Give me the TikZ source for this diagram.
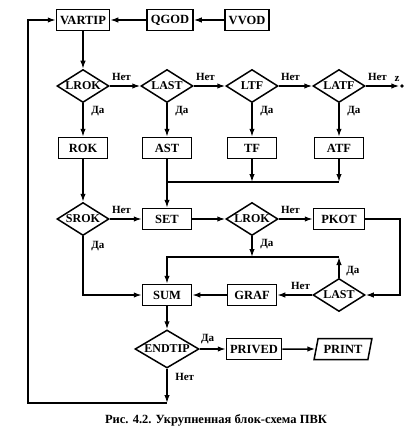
\documentclass[tikz,border=0pt]{standalone}
\usepackage{fontspec}
\setmainfont{Liberation Serif}
\usetikzlibrary{shapes.geometric,arrows.meta}
\begin{document}
\begin{tikzpicture}[x=1pt,y=-1pt,line width=1.5pt,
  >={Latex[length=8pt,width=5.5pt]},
  box/.style={draw,rectangle,minimum width=49pt,minimum height=21pt,inner sep=1pt,
    font=\bfseries\fontsize{12.5}{13}\selectfont},
  test/.style={draw,diamond,aspect=2,minimum width=52pt,minimum height=33pt,inner sep=0pt,
    font=\bfseries\fontsize{12}{13}\selectfont},
  io/.style={draw,trapezium,trapezium left angle=72,trapezium right angle=108,
    trapezium stretches=true,minimum width=58pt,minimum height=21pt,inner sep=1pt,
    font=\bfseries\fontsize{12.5}{13}\selectfont},
  lbl/.style={inner sep=0.5pt,font=\bfseries\fontsize{11}{12}\selectfont}]
  \useasboundingbox (0,0) rectangle (411,431);
  \node[box,minimum width=53pt] (vartip) at (83,20) {VARTIP};
  \node[box,minimum width=46pt] (qgod) at (170,20) {QGOD};
  \node[box,minimum width=44pt] (vvod) at (247,20) {VVOD};
  \node[test] (lrok) at (83,86) {LROK};
  \node[test] (last) at (167,86) {LAST};
  \node[test] (ltf) at (252,86) {LTF};
  \node[test] (latf) at (339,86) {LATF};
  \node[circle,fill,inner sep=1.4pt] (zend) at (402,86) {};
  \node[lbl] (zlbl) at (397,79) {z};
  \node[box] (rok) at (83,148) {ROK};
  \node[box] (ast) at (167,148) {AST};
  \node[box] (tf) at (252,148) {TF};
  \node[box] (atf) at (339,148) {ATF};
  \node[test] (srok) at (83,219) {SROK};
  \node[box] (set) at (167,219) {SET};
  \node[test] (lrok2) at (252,219) {LROK};
  \node[box,minimum width=51pt] (pkot) at (339,219) {PKOT};
  \node[box] (sum) at (167,295) {SUM};
  \node[box] (graf) at (252,295) {GRAF};
  \node[test] (last2) at (339,295) {LAST};
  \node[test,minimum width=64pt,minimum height=38pt] (endtip) at (167,349) {ENDTIP};
  \node[box,minimum width=55pt] (prived) at (254,349) {PRIVED};
  \node[io] (print) at (343,349) {PRINT};
  \node[font=\bfseries\fontsize{12.5}{14}\selectfont] (cap) at (216,420)
    {Рис. 4.2. Укрупненная блок-схема ПВК};
  \coordinate (j1) at (0,182);
  \coordinate (j2) at (0,257);
  \coordinate (pr) at (400,219);
  \coordinate (c1) at (167,403);
  \coordinate (lp) at (28,403);
  \draw[->] (vvod) -- (qgod);
  \draw[->] (qgod) -- (vartip);
  \draw[->] (vartip) -- (lrok);
  \draw[->] (lrok) -- (last);
  \draw[->] (last) -- (ltf);
  \draw[->] (ltf) -- (latf);
  \draw[->] (latf) -- (zend);
  \draw[->] (lrok) -- (rok);
  \draw[->] (last) -- (ast);
  \draw[->] (ltf) -- (tf);
  \draw[->] (latf) -- (atf);
  \draw[->] (rok) -- (srok);
  \draw[->] (ast) -- (set);
  \draw[->] (tf) -- (tf |- j1);
  \draw[->] (atf) -- (atf |- j1);
  \draw (ast |- j1) -- (atf |- j1);
  \draw[->] (srok) -- (set);
  \draw[->] (srok) |- (sum);
  \draw[->] (set) -- (lrok2);
  \draw[->] (lrok2) -- (pkot);
  \draw[->] (lrok2) -- (lrok2 |- j2);
  \draw[->] (last2 |- j2) -- (sum |- j2) -- (sum);
  \draw[->] (last2) -- (last2 |- j2);
  \draw[->] (pkot) -- (pr) |- (last2);
  \draw[->] (last2) -- (graf);
  \draw[->] (graf) -- (sum);
  \draw[->] (sum) -- (endtip);
  \draw[->] (endtip) -- (prived);
  \draw[->] (prived) -- (print);
  \draw[->] (endtip) -- (c1);
  \draw[->] (c1) -- (lp) |- (vartip);
  \node[lbl,anchor=south west] (n1) at ([xshift=1pt,yshift=4pt]lrok.east) {Нет};
  \node[lbl,anchor=south west] (n2) at ([xshift=1pt,yshift=4pt]last.east) {Нет};
  \node[lbl,anchor=south west] (n3) at ([xshift=1pt,yshift=4pt]ltf.east) {Нет};
  \node[lbl,anchor=south west] (n4) at ([xshift=1pt,yshift=4pt]latf.east) {Нет};
  \node[lbl,anchor=north west] (d1) at ([xshift=7pt,yshift=-2pt]lrok.south) {Да};
  \node[lbl,anchor=north west] (d2) at ([xshift=7pt,yshift=-2pt]last.south) {Да};
  \node[lbl,anchor=north west] (d3) at ([xshift=7pt,yshift=-2pt]ltf.south) {Да};
  \node[lbl,anchor=north west] (d4) at ([xshift=7pt,yshift=-2pt]latf.south) {Да};
  \node[lbl,anchor=south west] (n5) at ([xshift=1pt,yshift=4pt]srok.east) {Нет};
  \node[lbl,anchor=north west] (d5) at ([xshift=7pt,yshift=-4pt]srok.south) {Да};
  \node[lbl,anchor=south west] (n6) at ([xshift=1pt,yshift=4pt]lrok2.east) {Нет};
  \node[lbl,anchor=north west] (d6) at ([xshift=7pt,yshift=-2pt]lrok2.south) {Да};
  \node[lbl,anchor=south west] (d7) at ([xshift=6pt,yshift=1pt]last2.north) {Да};
  \node[lbl,anchor=south east] (n7) at ([xshift=-1pt,yshift=4pt]last2.west) {Нет};
  \node[lbl,anchor=south west] (d8) at ([xshift=0pt,yshift=4pt]endtip.east) {Да};
  \node[lbl,anchor=north west] (n8) at ([xshift=7pt,yshift=-3pt]endtip.south) {Нет};
\end{tikzpicture}
\end{document}
